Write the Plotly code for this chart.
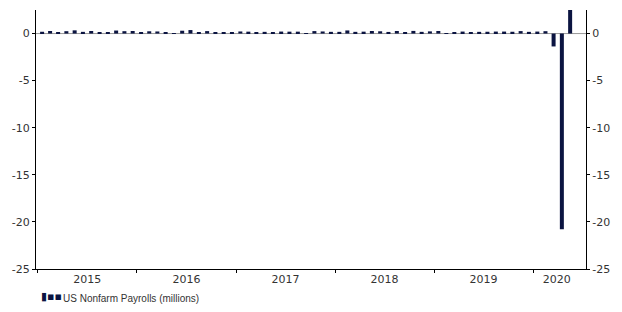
import pandas as pd
import plotly.graph_objects as go

# Monthly change in US nonfarm payrolls, millions (Jan 2015 - May 2020)
months = pd.date_range("2015-01-01", "2020-05-01", freq="MS")
payrolls = [
    # 2015
    0.19, 0.27, 0.07, 0.25, 0.34, 0.18, 0.27, 0.13, 0.14, 0.32, 0.25, 0.27,
    # 2016
    0.15, 0.24, 0.22, 0.16, 0.04, 0.30, 0.37, 0.13, 0.26, 0.12, 0.16, 0.16,
    # 2017
    0.22, 0.20, 0.15, 0.18, 0.15, 0.21, 0.20, 0.20, -0.02, 0.26, 0.22, 0.18,
    # 2018
    0.18, 0.33, 0.18, 0.20, 0.27, 0.24, 0.17, 0.27, 0.11, 0.28, 0.18, 0.23,
    # 2019
    0.27, 0.01, 0.15, 0.21, 0.09, 0.18, 0.19, 0.21, 0.21, 0.19, 0.26, 0.18,
    # 2020
    0.21, 0.25, -1.37, -20.79, 2.73,
]
series_name = "US Nonfarm Payrolls (millions)"
year_labels = ["2015", "2016", "2017", "2018", "2019", "2020"]
year_label_pos = ["2015-07-02", "2016-07-02", "2017-07-02", "2018-07-02", "2019-07-02", "2020-03-28"]
y_ticks = [0, -5, -10, -15, -20, -25]

bar_color = "#0b1441"
text_color = "#333333"
axis_font = dict(family="DejaVu Sans", size=11, color=text_color)

fig = go.Figure()
fig.add_trace(go.Bar(
    x=months, y=payrolls, name=series_name, showlegend=False,
    xperiod="M1", xperiodalignment="middle",
    marker=dict(color=bar_color, line=dict(width=0)),
))
fig.add_trace(go.Bar(
    x=months, y=payrolls, yaxis="y2", showlegend=False, hoverinfo="skip",
    xperiod="M1", xperiodalignment="middle",
    marker=dict(color="rgba(0,0,0,0)", line=dict(width=0)),
))

yaxis_common = dict(
    range=[-25, 2.5], tickvals=y_ticks, ticktext=[str(v) for v in y_ticks],
    showgrid=False, showline=True, linecolor="#000000", linewidth=1,
    ticks="outside", ticklen=3, tickcolor="#000000", tickfont=axis_font,
    zeroline=False, automargin=False,
)

fig.update_layout(
    width=622, height=312,
    margin=dict(l=36, r=36, t=10, b=43, autoexpand=False),
    paper_bgcolor="white", plot_bgcolor="white",
    barmode="overlay", bargap=0.5,
    xaxis=dict(
        type="date", range=["2014-12-25", "2020-07-14"],
        tickvals=year_label_pos, ticktext=year_labels, ticks="",
        tickfont=axis_font, showgrid=False, automargin=False,
        showline=True, linecolor="#000000", linewidth=1,
        minor=dict(ticks="outside", ticklen=3, tickcolor="#000000",
                   dtick="M12", tick0="2015-01-01", showgrid=False),
    ),
    yaxis=dict(side="left", **yaxis_common),
    yaxis2=dict(side="right", overlaying="y", **yaxis_common),
    showlegend=False,
    shapes=[dict(type="line", xref="paper", x0=0, x1=1, yref="y", y0=0, y1=0,
                 line=dict(color="#999999", width=1), layer="below")],
    annotations=[
        dict(text="\u25AE\u25AA\u25AA", xref="paper", yref="paper", x=0.006, y=-0.108,
             xanchor="left", yanchor="middle", showarrow=False,
             font=dict(family="DejaVu Sans", size=11, color=bar_color)),
        dict(text=series_name, xref="paper", yref="paper", x=0.046, y=-0.112,
             xanchor="left", yanchor="middle", showarrow=False,
             font=dict(family="Liberation Sans", size=10, color=text_color)),
    ],
)

fig.write_html("out.html")
